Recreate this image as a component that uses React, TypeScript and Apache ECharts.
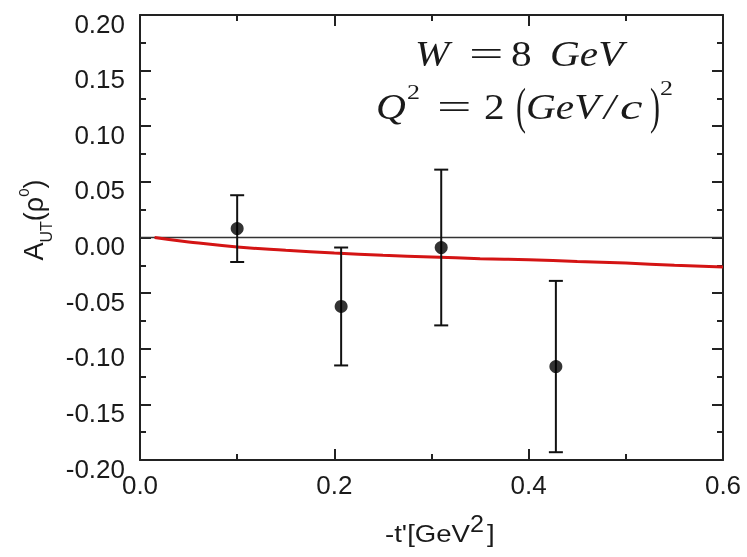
import React, { useEffect, useRef } from "react";
import * as echarts from "echarts";

// Measured asymmetry points: -t' [GeV^2], A_UT and its statistical error
const tPrime = [0.1, 0.207, 0.31, 0.428];
const aut = [0.008, -0.062, -0.009, -0.116];
const autErr = [0.03, 0.053, 0.07, 0.077];

// Model prediction (red curve)
const modelT = [0.015, 0.05, 0.1, 0.15, 0.2, 0.25, 0.3, 0.35, 0.4, 0.45, 0.5, 0.55, 0.6];
const modelA = [0, -0.004, -0.0085, -0.0115, -0.014, -0.016, -0.0175, -0.019, -0.02, -0.0215, -0.023, -0.025, -0.0265];

const xTicks = { min: 0, max: 0.6, step: 0.2 };
const yTicks = { min: -0.2, max: 0.2, step: 0.05 };

const labelFont = "'Liberation Sans', Arial, Helvetica, sans-serif";
const mathFont = "'Liberation Serif', 'Times New Roman', serif";
const ink = "#1a1a1a";

// One piece of text, placed by its left edge and vertical centre
function piece(
  text: string,
  x: number,
  y: number,
  size: number,
  opts: { italic?: boolean; scaleX?: number; font?: string } = {}
) {
  return {
    type: "text",
    x,
    y,
    scaleX: opts.scaleX ?? 1,
    style: {
      text,
      fontFamily: opts.font ?? mathFont,
      fontSize: size,
      fontStyle: opts.italic ? "italic" : "normal",
      fill: ink,
      align: "left",
      verticalAlign: "middle",
    },
  };
}

export default function App() {
  const ref = useRef<HTMLDivElement>(null);

  useEffect(() => {
    if (!ref.current) return;
    const chart = echarts.init(ref.current, undefined, { renderer: "svg" });

    const axisLine = { show: true, onZero: false, lineStyle: { color: "#222", width: 2 } };
    const tick = { show: true, inside: true, length: 11, lineStyle: { color: "#222", width: 2 } };
    const minor = { show: true, splitNumber: 2, length: 6, lineStyle: { color: "#222", width: 2 } };

    const errorData = tPrime.map((t, i) => [t, aut[i] - autErr[i], aut[i] + autErr[i]]);

    const sx = 1.18; // caption glyph width
    const eq = 1.75; // wide equals sign

    chart.setOption({
      animation: false,
      grid: { left: 140, right: 24, top: 15, bottom: 97 },
      xAxis: [
        {
          type: "value",
          min: xTicks.min,
          max: xTicks.max,
          interval: xTicks.step,
          position: "bottom",
          axisLine,
          axisTick: tick,
          minorTick: minor,
          splitLine: { show: false },
          axisLabel: {
            color: ink,
            fontFamily: labelFont,
            fontSize: 26,
            margin: 12,
            formatter: (v: number) => v.toFixed(1),
          },
        },
        {
          type: "value",
          min: xTicks.min,
          max: xTicks.max,
          interval: xTicks.step,
          position: "top",
          axisLine,
          axisTick: tick,
          minorTick: minor,
          splitLine: { show: false },
          axisLabel: { show: false },
        },
      ],
      yAxis: [
        {
          type: "value",
          min: yTicks.min,
          max: yTicks.max,
          interval: yTicks.step,
          position: "left",
          axisLine,
          axisTick: tick,
          minorTick: minor,
          splitLine: { show: false },
          axisLabel: {
            color: ink,
            fontFamily: labelFont,
            fontSize: 26,
            margin: 15,
            verticalAlign: "top",
            lineHeight: 17,
            formatter: (v: number) => v.toFixed(2),
          },
        },
        {
          type: "value",
          min: yTicks.min,
          max: yTicks.max,
          interval: yTicks.step,
          position: "right",
          axisLine,
          axisTick: tick,
          minorTick: minor,
          splitLine: { show: false },
          axisLabel: { show: false },
        },
      ],
      series: [
        {
          type: "line",
          data: [
            [xTicks.min, 0],
            [xTicks.max, 0],
          ],
          symbol: "none",
          lineStyle: { color: "#333", width: 1.5 },
          silent: true,
          z: 1,
        },
        {
          type: "line",
          data: modelT.map((t, i) => [t, modelA[i]]),
          smooth: true,
          symbol: "none",
          lineStyle: { color: "#d41414", width: 3 },
          z: 2,
        },
        {
          type: "custom",
          data: errorData,
          z: 3,
          renderItem: (params: any, api: any) => {
            const x = api.value(0);
            const lo = api.coord([x, api.value(1)]);
            const hi = api.coord([x, api.value(2)]);
            const cap = 7;
            const style = { stroke: "#111", lineWidth: 2 };
            return {
              type: "group",
              children: [
                { type: "line", shape: { x1: lo[0], y1: lo[1], x2: hi[0], y2: hi[1] }, style },
                { type: "line", shape: { x1: lo[0] - cap, y1: lo[1], x2: lo[0] + cap, y2: lo[1] }, style },
                { type: "line", shape: { x1: hi[0] - cap, y1: hi[1], x2: hi[0] + cap, y2: hi[1] }, style },
              ],
            };
          },
        },
        {
          type: "scatter",
          data: tPrime.map((t, i) => [t, aut[i]]),
          symbol: "circle",
          symbolSize: 13,
          itemStyle: { color: "#000" },
          z: 4,
        },
      ],
      graphic: [
        // y-axis title, reading bottom to top
        {
          type: "text",
          x: 34,
          y: 220,
          rotation: Math.PI / 2,
          style: {
            text: "{a|A}{sub|UT}{a|(ρ}{sup|0}{a|)}",
            align: "center",
            verticalAlign: "middle",
            rich: {
              a: { fontSize: 27, fontFamily: labelFont, fill: ink },
              sub: { fontSize: 16, fontFamily: labelFont, fill: ink, verticalAlign: "bottom", padding: [0, 0, -7, 0] },
              sup: { fontSize: 15, fontFamily: labelFont, fill: ink, verticalAlign: "top", padding: [-5, 0, 0, 0] },
            },
          },
        },
        // x-axis title: -t'[GeV^2]
        piece("-t'[GeV", 385, 534, 24, { font: labelFont, scaleX: 1.15 }),
        piece("2", 470, 524, 24, { font: labelFont, scaleX: 1.05 }),
        piece("]", 487, 534, 24, { font: labelFont, scaleX: 1.15 }),
        // W = 8 GeV
        piece("W", 415, 54, 35, { italic: true, scaleX: sx }),
        piece("=", 469, 54, 35, { scaleX: eq }),
        piece("8", 511, 54, 35, { scaleX: sx }),
        piece("GeV", 550, 54, 35, { italic: true, scaleX: sx }),
        // Q^2 = 2 (GeV/c)^2
        piece("Q", 376, 107, 35, { italic: true, scaleX: sx }),
        piece("2", 407, 92, 22, { scaleX: sx }),
        piece("=", 437, 107, 35, { scaleX: eq }),
        piece("2", 484, 107, 35, { scaleX: sx }),
        piece("(", 516, 106, 50, { scaleX: 0.6 }),
        piece("GeV", 526, 107, 35, { italic: true, scaleX: sx }),
        piece("/", 604, 107, 35, { italic: true, scaleX: sx }),
        piece("c", 620, 107, 35, { italic: true, scaleX: 1.45 }),
        piece(")", 650, 106, 50, { scaleX: 0.6 }),
        piece("2", 660, 88, 22, { scaleX: sx }),
      ],
    });

    return () => chart.dispose();
  }, []);

  return <div ref={ref} style={{ position: "fixed", left: 0, top: 0, width: 747, height: 557 }} />;
}
